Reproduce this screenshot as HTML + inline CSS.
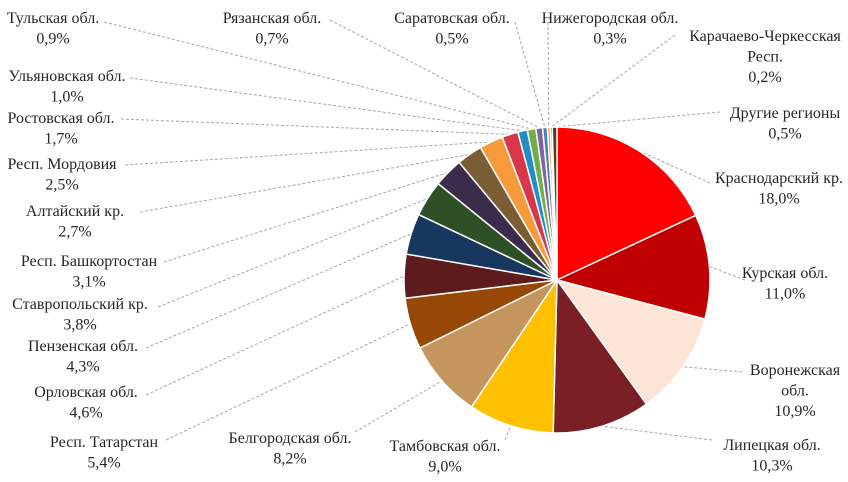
<!DOCTYPE html>
<html><head><meta charset="utf-8"><style>
html,body{margin:0;padding:0;background:#fff;width:848px;height:482px;overflow:hidden}
svg text{font-family:"Liberation Serif","Times New Roman",serif;font-size:16px;fill:#262626}
</style></head><body>
<svg id="s" width="848" height="482" xmlns="http://www.w3.org/2000/svg" font-family="Liberation Serif, serif"></svg>
<script>
var d=[
["Краснодарский кр.|18,0%",18,"#FF0000",779,177,710,183],
["Курская обл.|11,0%",11,"#C00000",785,272,745,280],
["Воронежская|обл.|10,9%",10.9,"#FCE4D6",795,369,742,372],
["Липецкая обл.|10,3%",10.3,"#7B1F27",772,444,712,440],
["Тамбовская обл.|9,0%",9,"#FFC000",445,445,505,440],
["Белгородская обл.|8,2%",8.2,"#C4965E",290,437,355,432],
["Респ. Татарстан|5,4%",5.4,"#974706",104,441,166,440],
["Орловская обл.|4,6%",4.6,"#5E1B1E",86,391,146,395],
["Пензенская обл.|4,3%",4.3,"#17375E",83,345,146,348],
["Ставропольский кр.|3,8%",3.8,"#2E5026",80,303,158,307],
["Респ. Башкортостан|3,1%",3.1,"#3C2C4C",89,260,164,262],
["Алтайский кр.|2,7%",2.7,"#7A5C35",75,210,140,212],
["Респ. Мордовия|2,5%",2.5,"#F79A3B",62,163,125,165],
["Ростовская обл.|1,7%",1.7,"#D9364A",61,117,121,119],
["Ульяновская обл.|1,0%",1,"#1F8FC6",67,75,130,78],
["Тульская обл.|0,9%",0.9,"#6FAF45",53,17,104,22],
["Рязанская обл.|0,7%",0.7,"#8064A2",272,17,330,20],
["Саратовская обл.|0,5%",0.5,"#4A7EBB",452,17,515,22],
["Нижегородская обл.|0,3%",0.3,"#F0A030",610,17,548,22],
["Карачаево-Черкесская|Респ.|0,2%",0.2,"#404040",765,35,675,35],
["Другие регионы|0,5%",0.5,"#5A3A20",785,112,720,112]
];
var cx=557,cy=280,r=153,tot=0;d.forEach(function(e){tot+=e[1]});
var s=document.getElementById('s'),h='',a=0;
function pt(t,rr){return [cx+rr*Math.sin(t),cy-rr*Math.cos(t)];}
var lines='',txt='';
d.forEach(function(e){
 var a1=a+e[1]/tot*2*Math.PI,p0=pt(a,r),p1=pt(a1,r),lg=(a1-a)>Math.PI?1:0;
 h+='<path d="M'+cx+','+cy+' L'+p0[0].toFixed(2)+','+p0[1].toFixed(2)+' A'+r+','+r+' 0 '+lg+' 1 '+p1[0].toFixed(2)+','+p1[1].toFixed(2)+' Z" fill="'+e[2]+'" stroke="#fff" stroke-width="1.5"/>';
 var m=pt((a+a1)/2,r);
 lines+='<line x1="'+e[5]+'" y1="'+e[6]+'" x2="'+m[0].toFixed(1)+'" y2="'+m[1].toFixed(1)+'" stroke="#a6a6a6" stroke-width="1" stroke-dasharray="3,2"/>';
 var L=e[0].split('|');
 L.forEach(function(t,i){txt+='<text x="'+e[3]+'" y="'+(e[4]+6+i*20.5)+'" text-anchor="middle">'+t+'</text>';});
 a=a1;
});
s.innerHTML=lines+h+txt;
</script>
</body></html>
